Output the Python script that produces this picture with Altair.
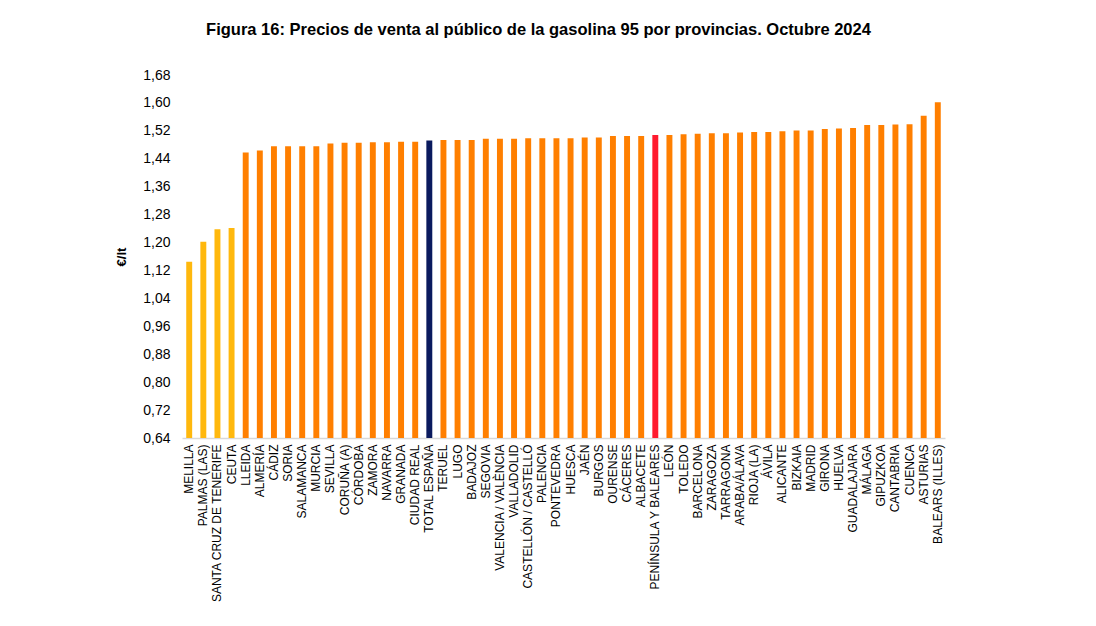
import altair as alt
import pandas as pd

provincias = [
    "MELILLA", "PALMAS (LAS)", "SANTA CRUZ DE TENERIFE", "CEUTA", "LLEIDA",
    "ALMERÍA", "CÁDIZ", "SORIA", "SALAMANCA", "MURCIA", "SEVILLA", "CORUÑA (A)",
    "CÓRDOBA", "ZAMORA", "NAVARRA", "GRANADA", "CIUDAD REAL", "TOTAL ESPAÑA",
    "TERUEL", "LUGO", "BADAJOZ", "SEGOVIA", "VALENCIA / VALÈNCIA", "VALLADOLID",
    "CASTELLÓN / CASTELLÓ", "PALENCIA", "PONTEVEDRA", "HUESCA", "JAÉN", "BURGOS",
    "OURENSE", "CÁCERES", "ALBACETE", "PENÍNSULA Y BALEARES", "LEÓN", "TOLEDO",
    "BARCELONA", "ZARAGOZA", "TARRAGONA", "ARABA/ÁLAVA", "RIOJA (LA)", "ÁVILA",
    "ALICANTE", "BIZKAIA", "MADRID", "GIRONA", "HUELVA", "GUADALAJARA", "MÁLAGA",
    "GIPUZKOA", "CANTABRIA", "CUENCA", "ASTURIAS", "BALEARS (ILLES)",
]
precios = [
    1.145, 1.202, 1.238, 1.242, 1.458,
    1.464, 1.476, 1.476, 1.476, 1.476, 1.484, 1.486,
    1.486, 1.487, 1.487, 1.489, 1.489, 1.492,
    1.494, 1.494, 1.494, 1.497, 1.497, 1.497,
    1.499, 1.499, 1.499, 1.499, 1.501, 1.501,
    1.505, 1.505, 1.505, 1.508, 1.508, 1.510,
    1.512, 1.513, 1.513, 1.515, 1.517, 1.517,
    1.519, 1.521, 1.521, 1.525, 1.527, 1.528, 1.537,
    1.537, 1.538, 1.539, 1.563, 1.602,
]
grupo = (["Canarias/Ceuta/Melilla"] * 4 + ["Provincia"] * 13 + ["Total"]
         + ["Provincia"] * 15 + ["Península"] + ["Provincia"] * 20)
grupos = ["Canarias/Ceuta/Melilla", "Provincia", "Total", "Península"]
colores = ["#FFB80D", "#FF7F00", "#0A1A5E", "#FF1A2E"]
y_ticks = [0.64, 0.72, 0.80, 0.88, 0.96, 1.04, 1.12, 1.20, 1.28, 1.36, 1.44, 1.52, 1.60, 1.68]
base = 0.64

df = pd.DataFrame({"provincia": provincias, "precio": precios, "grupo": grupo})

chart = (
    alt.Chart(df)
    .mark_bar(clip=True)
    .encode(
        x=alt.X(
            "provincia:N",
            sort=provincias,
            scale=alt.Scale(paddingInner=0.58, paddingOuter=0.3),
            axis=alt.Axis(
                title=None,
                labelAngle=-90,
                labelFontSize=12,
                labelFont="Liberation Sans",
                labelColor="#000000",
                labelPadding=6,
                ticks=False,
                domainColor="#d9d9d9",
                domainWidth=1.5,
                labelOverlap=False,
            ),
        ),
        y=alt.Y(
            "precio:Q",
            scale=alt.Scale(domain=[0.64, 1.68], nice=False, zero=False),
            axis=alt.Axis(
                title="€/lt",
                titleFont="Liberation Sans",
                titleFontSize=13,
                titleFontWeight="bold",
                titleColor="#000000",
                titlePadding=14,
                values=y_ticks,
                labelExpr="replace(format(datum.value, '.2f'), '.', ',')",
                labelFont="Liberation Sans",
                labelFontSize=14,
                labelColor="#000000",
                labelPadding=12,
                ticks=False,
                domain=False,
                grid=False,
            ),
        ),
        y2=alt.datum(base),
        color=alt.Color(
            "grupo:N",
            scale=alt.Scale(domain=grupos, range=colores),
            legend=None,
        ),
    )
    .properties(
        width=763,
        height=363,
        background="#ffffff",
        title=alt.TitleParams(
            "Figura 16: Precios de venta al público de la gasolina 95 por provincias. Octubre 2024",
            font="Liberation Sans",
            fontSize=16.5,
            fontWeight="bold",
            color="#000000",
            anchor="middle",
            dx=-25,
            offset=30,
        ),
        autosize=alt.AutoSizeParams(type="none"),
        padding={"left": 174, "top": 67, "right": 143, "bottom": 180},
    )
    .configure_view(strokeWidth=0, stroke=None)
)

chart.save("out.html", embed_options={"renderer": "svg", "actions": False})
